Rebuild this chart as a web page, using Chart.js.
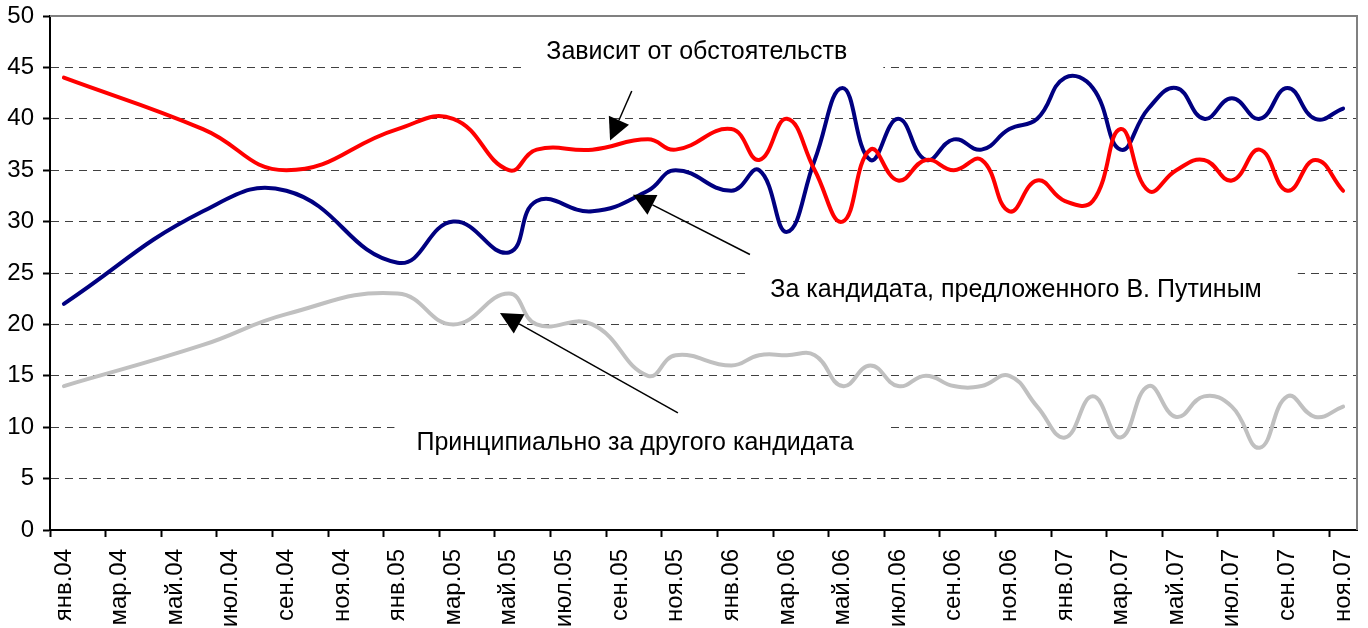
<!DOCTYPE html>
<html>
<head>
<meta charset="utf-8">
<script src="https://cdn.jsdelivr.net/npm/chart.js@4.4.1/dist/chart.umd.min.js"></script>
<style>
  html, body { margin: 0; padding: 0; background: #fff; }
  #wrap { width: 1368px; height: 628px; }
</style>
</head>
<body>
<div id="wrap"><canvas id="myChart" width="1368" height="628"></canvas></div>
<script>
// month slots of the date axis (every other one gets a label)
const months = [
  "янв.04", "фев.04", "мар.04", "апр.04", "май.04", "июн.04", "июл.04", "авг.04", "сен.04", "окт.04", "ноя.04", "дек.04",
  "янв.05", "фев.05", "мар.05", "апр.05", "май.05", "июн.05", "июл.05", "авг.05", "сен.05", "окт.05", "ноя.05", "дек.05",
  "янв.06", "фев.06", "мар.06", "апр.06", "май.06", "июн.06", "июл.06", "авг.06", "сен.06", "окт.06", "ноя.06", "дек.06",
  "янв.07", "фев.07", "мар.07", "апр.07", "май.07", "июн.07", "июл.07", "авг.07", "сен.07", "окт.07", "ноя.07"
];

// survey dates
const surveys = [
  "янв.04", "июн.04", "сен.04", "янв.05", "мар.05", "май.05", "июн.05", "авг.05", "окт.05", "ноя.05",
  "янв.06", "фев.06", "мар.06", "апр.06", "май.06", "июн.06", "июл.06", "авг.06", "сен.06", "окт.06",
  "ноя.06", "дек.06", "янв.07", "фев.07", "мар.07", "апр.07", "май.07", "июн.07", "июл.07", "авг.07",
  "сен.07", "окт.07", "ноя.07"
];

// За кандидата, предложенного В. Путиным
const forPutinCandidate = [22, 31, 33, 26, 30, 27, 32, 31, 33, 35, 33, 35, 29, 36, 43, 36, 40, 36, 38, 37, 39, 40, 44, 43, 37, 41, 43, 40, 42, 40, 43, 40, 41];
// Зависит от обстоятельств
const dependsOnCircumstances = [44, 39, 35, 39, 40, 35, 37, 37, 38, 37, 39, 36, 40, 35, 30, 37, 34, 36, 35, 36, 31, 34, 32, 32, 39, 33, 35, 36, 34, 37, 33, 36, 33];
// Принципиально за другого кандидата
const forAnotherCandidate = [14, 18, 21, 23, 20, 23, 20, 20, 15, 17, 16, 17, 17, 17, 14, 16, 14, 15, 14, 14, 15, 12, 9, 13, 9, 14, 11, 13, 12, 8, 13, 11, 12];

const yTicks = [0, 5, 10, 15, 20, 25, 30, 35, 40, 45, 50];

// text labels and arrows, placed in data units (month slot, percent)
const notes = [
  { text: "Зависит от обстоятельств", x: 22.76, y: 46.5 },
  { text: "За кандидата, предложенного В. Путиным", x: 34.24, y: 23.3 },
  { text: "Принципиально за другого кандидата", x: 20.54, y: 8.46 }
];
const arrows = [
  { from: [20.42, 42.7], to: [19.64, 37.9] },
  { from: [24.67, 26.8], to: [20.46, 32.6] },
  { from: [22.08, 11.4], to: [15.68, 21.1] }
];

const FONT_FAMILY = "'Liberation Sans', Arial, sans-serif";
Chart.defaults.font.family = FONT_FAMILY;
Chart.defaults.font.size = 24;
Chart.defaults.color = "#000";

function series(values) {
  return values.map((v, i) => ({ x: surveys[i], y: v }));
}

function noPadding(scale) {
  scale.paddingTop = 0;
  scale.paddingBottom = 0;
  scale.paddingLeft = 0;
  scale.paddingRight = 0;
}

// frame, text boxes and arrows
const notesPlugin = {
  id: "notes",
  beforeDatasetsDraw(chart) {
    const { ctx, chartArea: a, scales } = chart;
    ctx.save();
    ctx.strokeStyle = "#808080";
    ctx.lineWidth = 2;
    ctx.beginPath();
    ctx.moveTo(a.left, a.top);
    ctx.lineTo(a.right, a.top);
    ctx.lineTo(a.right, a.bottom);
    ctx.stroke();

    ctx.font = "25px " + FONT_FAMILY;
    ctx.textAlign = "center";
    ctx.textBaseline = "middle";
    notes.forEach(n => {
      const cx = scales.x.getPixelForValue(n.x);
      const cy = scales.y.getPixelForValue(n.y);
      const w = ctx.measureText(n.text).width;
      ctx.fillStyle = "#fff";
      ctx.fillRect(cx - w / 2 - 22, cy - 18, w + 58, 36);
      ctx.fillStyle = "#000";
      ctx.fillText(n.text, cx, cy);
    });
    ctx.restore();
  },
  afterDatasetsDraw(chart) {
    const { ctx, scales } = chart;
    ctx.save();
    ctx.strokeStyle = "#000";
    ctx.fillStyle = "#000";
    ctx.lineWidth = 1.5;
    arrows.forEach(ar => {
      const x1 = scales.x.getPixelForValue(ar.from[0]), y1 = scales.y.getPixelForValue(ar.from[1]);
      const x2 = scales.x.getPixelForValue(ar.to[0]), y2 = scales.y.getPixelForValue(ar.to[1]);
      const ang = Math.atan2(y2 - y1, x2 - x1);
      const len = 22, half = 11;
      const bx = x2 - len * Math.cos(ang), by = y2 - len * Math.sin(ang);
      ctx.beginPath();
      ctx.moveTo(x1, y1);
      ctx.lineTo(bx, by);
      ctx.stroke();
      ctx.beginPath();
      ctx.moveTo(x2, y2);
      ctx.lineTo(bx + half * Math.sin(ang), by - half * Math.cos(ang));
      ctx.lineTo(bx - half * Math.sin(ang), by + half * Math.cos(ang));
      ctx.closePath();
      ctx.fill();
    });
    ctx.restore();
  }
};

const ctx = document.getElementById("myChart");

new Chart(ctx, {
  type: "line",
  data: {
    labels: months,
    datasets: [
      {
        label: "Принципиально за другого кандидата",
        data: series(forAnotherCandidate),
        borderColor: "#c0c0c0",
        borderWidth: 4
      },
      {
        label: "Зависит от обстоятельств",
        data: series(dependsOnCircumstances),
        borderColor: "#ff0000",
        borderWidth: 4
      },
      {
        label: "За кандидата, предложенного В. Путиным",
        data: series(forPutinCandidate),
        borderColor: "#000080",
        borderWidth: 4
      }
    ]
  },
  options: {
    responsive: false,
    animation: false,
    devicePixelRatio: 1,
    layout: { padding: { top: 16, right: 11, left: 0, bottom: 0 } },
    elements: {
      point: { radius: 0 },
      line: { tension: 0.45, borderCapStyle: "round", borderJoinStyle: "round" }
    },
    plugins: {
      legend: { display: false },
      tooltip: { enabled: false }
    },
    scales: {
      x: {
        type: "category",
        offset: true,
        afterFit(scale) { scale.height = 98; noPadding(scale); },
        grid: {
          offset: true,
          drawOnChartArea: false,
          tickLength: 7,
          tickWidth: 2,
          tickColor: c => (c.index % 2 === 0 ? "#000" : "rgba(0,0,0,0)")
        },
        border: { color: "#000", width: 2 },
        ticks: {
          autoSkip: false,
          maxRotation: 90,
          minRotation: 90,
          padding: 12,
          callback: function (value, index) {
            return index % 2 === 0 ? this.getLabelForValue(value) : "";
          }
        }
      },
      y: {
        min: 0,
        max: 50,
        afterFit(scale) { scale.width = 50; noPadding(scale); },
        afterBuildTicks(scale) { scale.ticks = yTicks.map(v => ({ value: v })); },
        grid: {
          color: c => (c.tick && (c.tick.value === 0 || c.tick.value === 50) ? "rgba(0,0,0,0)" : "#404040"),
          lineWidth: 1,
          tickLength: 7,
          tickWidth: 2,
          tickColor: "#000",
          tickBorderDash: []
        },
        border: { color: "#000", width: 2, dash: [8, 6] },
        ticks: { padding: 9 }
      }
    }
  },
  plugins: [notesPlugin]
});
</script>
</body>
</html>
